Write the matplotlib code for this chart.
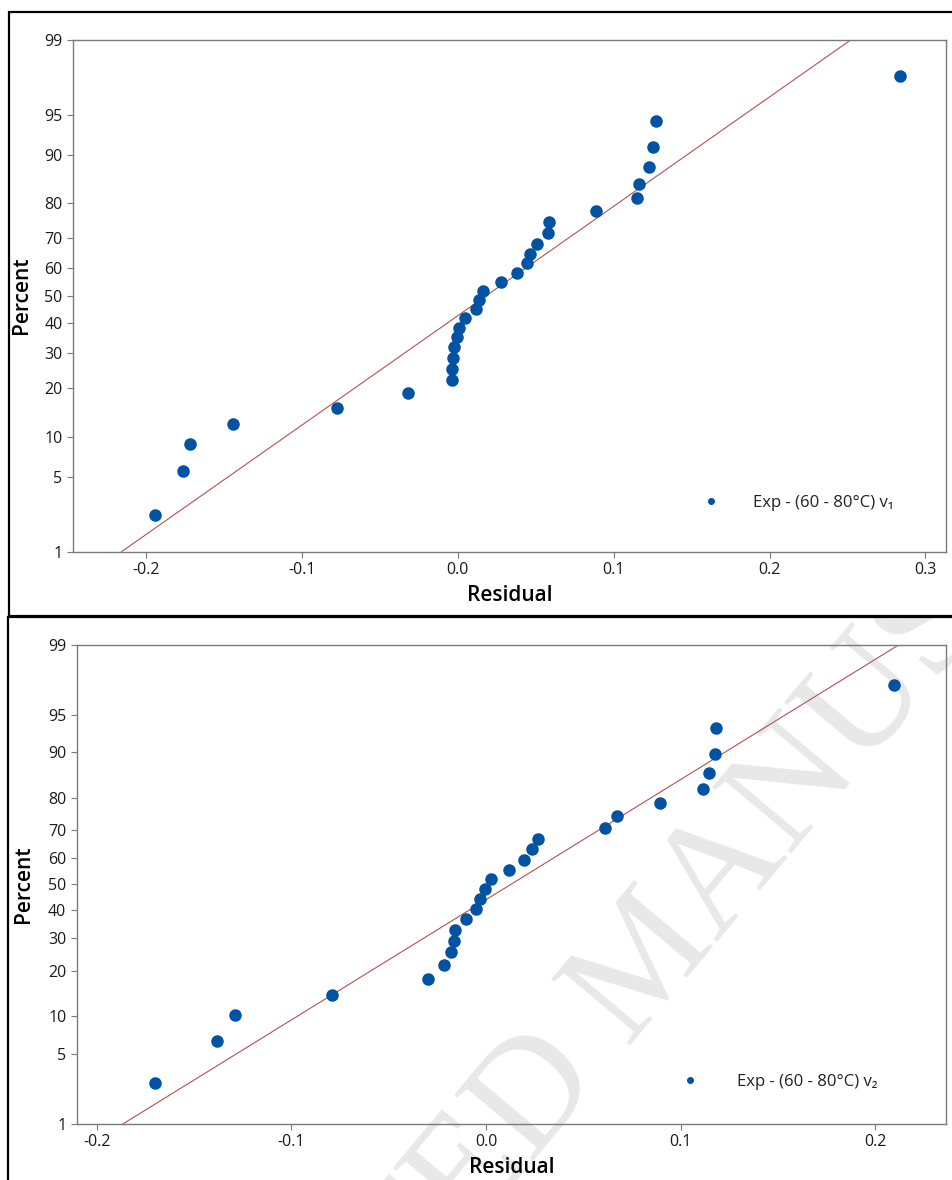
import matplotlib
matplotlib.use("Agg")
import matplotlib.pyplot as plt
import numpy as np
from statistics import NormalDist
from matplotlib.patches import Rectangle

#------------------------------------------------------------------
## DATA ##
#------------------------------------------------------------------

# Panel 1 : residuals (sorted) and their plotted percent
res_v1 = [-0.1940, -0.1760, -0.1719, -0.1443, -0.0774, -0.0317, -0.0035, -0.0035,
          -0.0028, -0.0024, -0.0006, 0.0008, 0.0045, 0.0115, 0.0137, 0.0164,
          0.0278, 0.0380, 0.0446, 0.0462, 0.0507, 0.0579, 0.0588, 0.0887,
          0.1152, 0.1163, 0.1225, 0.1255, 0.1270, 0.2835]
pct_v1 = [2.30, 5.59, 8.88, 12.17, 15.46, 18.75, 22.04, 25.33, 28.62, 31.91,
          35.20, 38.49, 41.78, 45.07, 48.36, 51.64, 54.93, 58.22, 61.51, 64.80,
          68.09, 71.38, 74.67, 77.96, 81.25, 84.54, 87.83, 91.12, 94.41, 97.70]
fit_v1 = (0.0184, 0.1006)   # mean, std of the fitted line

# Panel 2
res_v2 = [-0.1700, -0.1383, -0.1289, -0.0793, -0.0300, -0.0214, -0.0180, -0.0165,
          -0.0159, -0.0104, -0.0051, -0.0031, -0.0004, 0.0026, 0.0118, 0.0197,
          0.0235, 0.0266, 0.0612, 0.0674, 0.0896, 0.1117, 0.1147, 0.1177,
          0.1181, 0.2096]
pct_v2 = [2.65, 6.44, 10.23, 14.02, 17.80, 21.59, 25.38, 29.17, 32.95, 36.74,
          40.53, 44.32, 48.11, 51.89, 55.68, 59.47, 63.26, 67.05, 70.83, 74.62,
          78.41, 82.20, 85.98, 89.77, 93.56, 97.35]
fit_v2 = (0.0129, 0.0857)

labels = ["Exp - (60 - 80°C) v\u2081", "Exp - (60 - 80°C) v\u2082"]
pct_ticks = [1, 5, 10, 20, 30, 40, 50, 60, 70, 80, 90, 95, 99]
x_ticks_v1 = [-0.2, -0.1, 0.0, 0.1, 0.2, 0.3]
x_ticks_v2 = [-0.2, -0.1, 0.0, 0.1, 0.2]

#------------------------------------------------------------------
## NORMAL PROBABILITY SCALE ##
#------------------------------------------------------------------

nd = NormalDist()
_ppf = np.vectorize(lambda v: nd.inv_cdf(v / 100.0), otypes=[float])
_cdf = np.vectorize(lambda v: nd.cdf(v) * 100.0, otypes=[float])

def fwd(p):
    p = np.clip(np.asarray(p, dtype=float), 1e-6, 100 - 1e-6)
    return _ppf(p)

def inv(z):
    return _cdf(np.asarray(z, dtype=float))

plt.rcParams['font.family'] = ['Open Sans', 'DejaVu Sans']

blue = '#0052A3'
red = '#B5524E'
grey = '#7a7a7a'

fig = plt.figure(figsize=(9.53, 11.8), dpi=100)

# faint watermark behind the lower plot only
wm = fig.text(0.682, 0.184, "ACCEPTED MANUSCRIPT", rotation=50, ha='center', va='center',
              rotation_mode='anchor', fontsize=112, color='#e8e8e8',
              family=['Liberation Serif', 'DejaVu Serif'], zorder=-5)
wm_clip = Rectangle((0.0, 0.0), 1.0, 0.477, transform=fig.transFigure)
wm.set_clip_path(wm_clip)

# panel frames
fig.patches.append(Rectangle((0.0094, 0.478), 1.0, 0.5118, transform=fig.transFigure,
                             fill=False, edgecolor='black', linewidth=1.6, zorder=10))
fig.patches.append(Rectangle((0.0084, -0.02), 1.0, 0.497, transform=fig.transFigure,
                             fill=False, edgecolor='black', linewidth=1.6, zorder=10))

panels = [
    dict(rect=[0.0766, 0.5325, 0.9161, 0.434], res=res_v1, pct=pct_v1, fit=fit_v1,
         xlim=(-0.2468, 0.3132), xt=x_ticks_v1, lab=labels[0], leg=(0.7216, 0.0951, 2.0),
         ylab_x=-0.047),
    dict(rect=[0.0805, 0.0477, 0.9122, 0.4059], res=res_v2, pct=pct_v2, fit=fit_v2,
         xlim=(-0.2104, 0.2365), xt=x_ticks_v2, lab=labels[1], leg=(0.6963, 0.0877, 2.3),
         ylab_x=-0.049),
]

for p in panels:
    ax = fig.add_axes(p['rect'])
    ax.set_facecolor('none')
    ax.set_yscale('function', functions=(fwd, inv))

    # fitted line from 1 % to 99 %
    mu, sd = p['fit']
    line_pct = np.array([1.0, 99.0])
    line_x = mu + sd * np.array([nd.inv_cdf(0.01), nd.inv_cdf(0.99)])
    ax.plot(line_x, line_pct, color=red, linewidth=0.8, zorder=2)

    ax.plot(p['res'], p['pct'], linestyle='none', marker='o', markersize=8,
            color=blue, label=p['lab'], zorder=3)

    ax.set_ylim(1, 99)
    ax.set_xlim(*p['xlim'])
    ax.set_yticks(pct_ticks)
    ax.set_yticklabels([str(t) for t in pct_ticks])
    ax.minorticks_off()
    ax.set_xticks(p['xt'])
    ax.set_xticklabels([f"{t:.1f}" for t in p['xt']])

    for s in ax.spines.values():
        s.set_color(grey)
        s.set_linewidth(1.0)
    ax.tick_params(axis='both', direction='out', length=4.5, width=0.8, color=grey,
                   labelsize=11.5, labelcolor='#1a1a1a', pad=3)

    ax.set_xlabel("Residual", fontsize=15, fontweight='semibold', labelpad=5)
    ax.set_ylabel("Percent", fontsize=15, fontweight='semibold')
    ax.yaxis.set_label_coords(p['ylab_x'], 0.5)

    lx, ly, hp = p['leg']
    ax.legend(loc='center left', bbox_to_anchor=(lx, ly), frameon=False, fontsize=12,
              markerscale=0.5, handlelength=1.0, handletextpad=hp, borderpad=0,
              borderaxespad=0, labelcolor='#222222')

fig.savefig("out.png", dpi=100)
